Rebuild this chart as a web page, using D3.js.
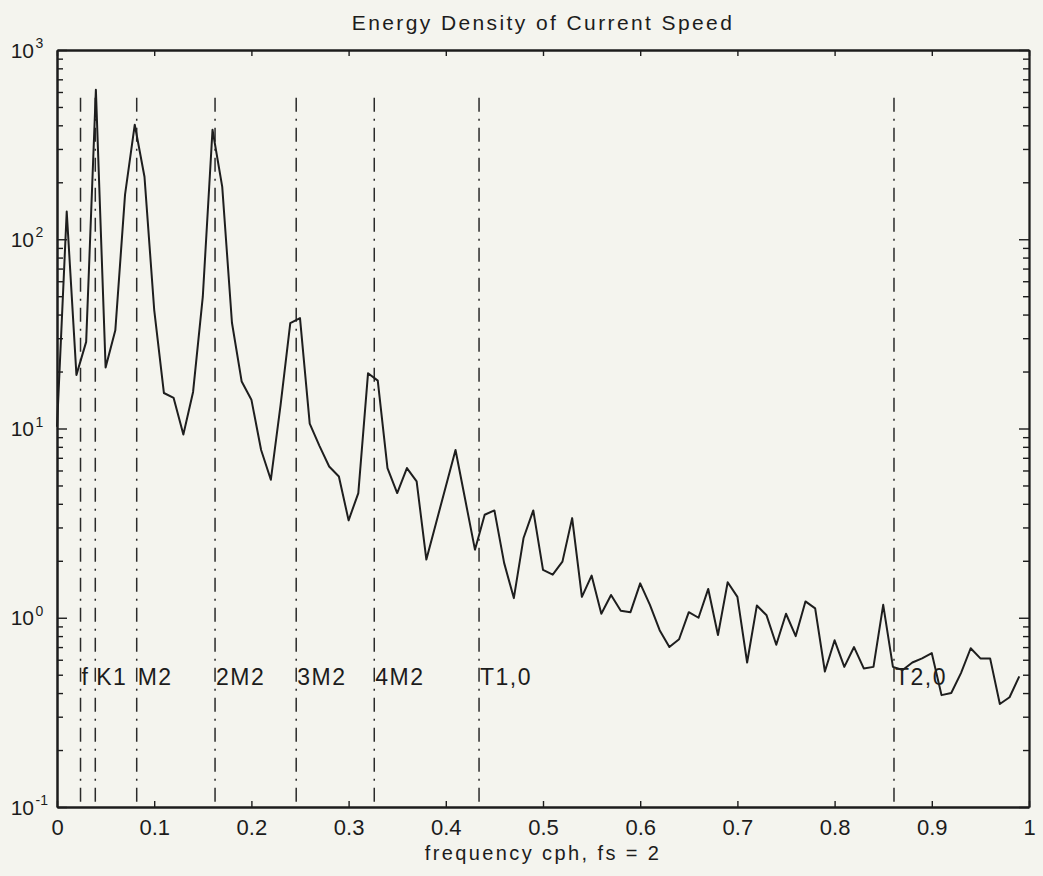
<!DOCTYPE html>
<html>
<head>
<meta charset="utf-8">
<script src="https://cdn.jsdelivr.net/npm/d3@7"></script>
<style>
  html, body { margin: 0; padding: 0; background: #f4f4ee; }
  svg { display: block; }
  text { font-family: "Liberation Sans", Arial, Helvetica, sans-serif; fill: #1c1c1c; }
</style>
</head>
<body>
<svg id="chart" width="1043" height="876"></svg>
<script>
// Energy density spectrum of current speed, one value per frequency bin (df = 0.01 cph)
const energy = [
  10.2, 140, 19.2, 28.7, 617, 21, 33, 172, 403, 214,
  42.4, 15.4, 14.5, 9.3, 15.6, 49.7, 379, 189, 36.2, 17.7,
  14.2, 7.7, 5.36, 13.3, 36, 38.3, 10.6, 8.1, 6.3, 5.58,
  3.27, 4.56, 19.6, 17.9, 6.18, 4.56, 6.18, 5.25, 2.03, 3.17,
  4.94, 7.7, 4.2, 2.29, 3.5, 3.69, 1.95, 1.27, 2.64, 3.69,
  1.79, 1.69, 1.98, 3.36, 1.29, 1.67, 1.05, 1.32, 1.09, 1.07,
  1.52, 1.17, 0.86, 0.70, 0.77, 1.07, 1.0, 1.42, 0.81, 1.54,
  1.29, 0.58, 1.16, 1.03, 0.72, 1.05, 0.80, 1.22, 1.12, 0.52,
  0.76, 0.55, 0.70, 0.54, 0.55, 1.17, 0.55, 0.53, 0.58, 0.61,
  0.65, 0.39, 0.40, 0.51, 0.69, 0.61, 0.61, 0.35, 0.38, 0.49
];
const df = 0.01;

// Tidal constituents marked with dash-dot lines
const constituents = ["f", "K1", "M2", "2M2", "3M2", "4M2", "T1,0", "T2,0"];
const constituentFreq = [0.0242, 0.0394, 0.082, 0.1626, 0.2461, 0.3264, 0.4342, 0.8611];
const markerTop = 560;   // upper end of marker lines (energy units)

const xTicks = [0, 0.1, 0.2, 0.3, 0.4, 0.5, 0.6, 0.7, 0.8, 0.9, 1];
const xTickLabels = ["0", "0.1", "0.2", "0.3", "0.4", "0.5", "0.6", "0.7", "0.8", "0.9", "1"];
const yDecades = [0.1, 1, 10, 100, 1000];
const yExponents = ["-1", "0", "1", "2", "3"];

const titleText = "Energy Density of Current Speed";
const xLabelText = "frequency cph, fs = 2";

const svg = d3.select("#chart");
const plotLeft = 57, plotRight = 1029, plotTop = 50, plotBottom = 807;

const x = d3.scaleLinear().domain([0, 1]).range([plotLeft, plotRight]);
const y = d3.scaleLog().domain([0.1, 1000]).range([plotBottom, plotTop]);

const ink = "#1c1c1c";

// Background
svg.append("rect").attr("width", 1043).attr("height", 876).attr("fill", "#f4f4ee");

// Axes with inward ticks
const minorY = y.ticks().filter(v => !yDecades.includes(v));

function styleAxis(g, width) {
  g.selectAll("path.domain").attr("stroke", ink).attr("stroke-width", width);
  g.selectAll(".tick line").attr("stroke", ink).attr("stroke-width", 1.4);
  g.selectAll(".tick text").attr("fill", ink);
}

const gBottom = svg.append("g").attr("transform", `translate(0,${plotBottom})`)
  .call(d3.axisBottom(x).tickValues(xTicks).tickSize(-6).tickSizeOuter(0).tickPadding(12.5)
    .tickFormat((d, i) => xTickLabels[i]));
gBottom.selectAll(".tick text").style("font-size", "22px")
  .style("font-family", "\"Liberation Sans\", Arial, sans-serif");
styleAxis(gBottom, 2.6);

const gTop = svg.append("g").attr("transform", `translate(0,${plotTop})`)
  .call(d3.axisTop(x).tickValues(xTicks).tickSize(-6).tickSizeOuter(0).tickFormat(""));
styleAxis(gTop, 2.4);

const gLeftMinor = svg.append("g").attr("transform", `translate(${plotLeft},0)`)
  .call(d3.axisLeft(y).tickValues(minorY).tickSize(-6).tickSizeOuter(0).tickFormat(""));
styleAxis(gLeftMinor, 2);
const gLeftMajor = svg.append("g").attr("transform", `translate(${plotLeft},0)`)
  .call(d3.axisLeft(y).tickValues(yDecades).tickSize(-10).tickSizeOuter(0).tickFormat(""));
styleAxis(gLeftMajor, 2);

const gRightMinor = svg.append("g").attr("transform", `translate(${plotRight},0)`)
  .call(d3.axisRight(y).tickValues(minorY).tickSize(-6).tickSizeOuter(0).tickFormat(""));
styleAxis(gRightMinor, 1.8);
const gRightMajor = svg.append("g").attr("transform", `translate(${plotRight},0)`)
  .call(d3.axisRight(y).tickValues(yDecades).tickSize(-10).tickSizeOuter(0).tickFormat(""));
styleAxis(gRightMajor, 1.8);

// Decade labels as 10 with a raised exponent
const yLab = svg.append("g");
yDecades.forEach((v, i) => {
  yLab.append("text").attr("x", 34).attr("y", y(v) + 7.5)
    .attr("text-anchor", "end").style("font-size", "21px").text("10");
  yLab.append("text").attr("x", 35.5).attr("y", y(v) - 2)
    .attr("text-anchor", "start").style("font-size", "14px").text(yExponents[i]);
});

// Constituent marker lines and labels
const markers = svg.append("g");
constituentFreq.forEach((f, i) => {
  markers.append("line")
    .attr("x1", x(f)).attr("x2", x(f))
    .attr("y1", y(markerTop)).attr("y2", y(0.105))
    .attr("stroke", "#2a2a2a").attr("stroke-width", 1.5)
    .attr("stroke-dasharray", "14,7,2,7");
  markers.append("text")
    .attr("x", x(f) + 1).attr("y", 685)
    .style("font-size", "23px").style("letter-spacing", "1.5px")
    .text(constituents[i]);
});

// Spectrum line
const line = d3.line()
  .x((d, i) => x(i * df))
  .y(d => y(d));
svg.append("path").datum(energy)
  .attr("d", line)
  .attr("fill", "none")
  .attr("stroke", "#1e1e1e")
  .attr("stroke-width", 2)
  .attr("stroke-linejoin", "round");

// Title and axis label
svg.append("text").attr("x", (plotLeft + plotRight) / 2).attr("y", 30)
  .attr("text-anchor", "middle").style("font-size", "21px").style("letter-spacing", "2.4px")
  .text(titleText);
svg.append("text").attr("x", (plotLeft + plotRight) / 2).attr("y", 860)
  .attr("text-anchor", "middle").style("font-size", "20px").style("letter-spacing", "2.4px")
  .text(xLabelText);
</script>
</body>
</html>
